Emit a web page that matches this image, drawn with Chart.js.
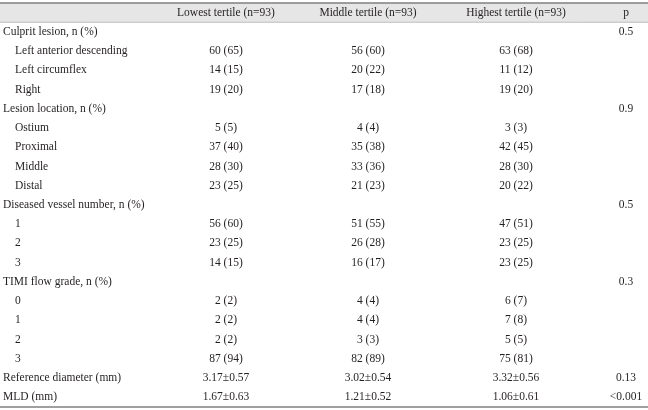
<!DOCTYPE html>
<html>
<head>
<meta charset="utf-8">
<script src="https://cdn.jsdelivr.net/npm/chart.js@4"></script>
<style>
  body { margin: 0; background: #fff; }
  canvas { display: block; }
</style>
</head>
<body>
<canvas id="tbl" width="648" height="410"></canvas>
<script>
// table content
const columns = ['Lowest tertile (n=93)', 'Middle tertile (n=93)', 'Highest tertile (n=93)', 'p'];

const rowLabels = [
  'Culprit lesion, n (%)', 'Left anterior descending', 'Left circumflex', 'Right',
  'Lesion location, n (%)', 'Ostium', 'Proximal', 'Middle', 'Distal',
  'Diseased vessel number, n (%)', '1', '2', '3',
  'TIMI flow grade, n (%)', '0', '1', '2', '3',
  'Reference diameter (mm)', 'MLD (mm)'
];
const indented = [0,1,1,1, 0,1,1,1,1, 0,1,1,1, 0,1,1,1,1, 0,0];

const lowest  = ['', '60 (65)', '14 (15)', '19 (20)', '', '5 (5)', '37 (40)', '28 (30)', '23 (25)',
                 '', '56 (60)', '23 (25)', '14 (15)', '', '2 (2)', '2 (2)', '2 (2)', '87 (94)', '3.17±0.57', '1.67±0.63'];
const middle  = ['', '56 (60)', '20 (22)', '17 (18)', '', '4 (4)', '35 (38)', '33 (36)', '21 (23)',
                 '', '51 (55)', '26 (28)', '16 (17)', '', '4 (4)', '4 (4)', '3 (3)', '82 (89)', '3.02±0.54', '1.21±0.52'];
const highest = ['', '63 (68)', '11 (12)', '19 (20)', '', '3 (3)', '42 (45)', '28 (30)', '20 (22)',
                 '', '47 (51)', '23 (25)', '23 (25)', '', '6 (7)', '7 (8)', '5 (5)', '75 (81)', '3.32±0.56', '1.06±0.61'];
const pValues = ['0.5', '', '', '', '0.9', '', '', '', '',
                 '0.5', '', '', '', '0.3', '', '', '', '', '0.13', '<0.001'];

// layout (x positions in px along the x scale)
const colX = [226, 368, 516, 626];
const labelX = 3, indentX = 15;
const FONT = '11.5px "Liberation Serif", serif';
const INK = '#231f20';

function cellData(values, x) {
  const pts = [], texts = [];
  values.forEach((v, i) => {
    if (v !== '') { pts.push({ x: x, y: i }); texts.push(v); }
  });
  return { pts, texts };
}

const datasets = [];
// header row sits at y = -1
datasets.push({
  data: columns.map((c, i) => ({ x: colX[i], y: -1 })),
  texts: columns, align: 'center'
});
datasets.push({
  data: rowLabels.map((l, i) => ({ x: indented[i] ? indentX : labelX, y: i })),
  texts: rowLabels, align: 'left'
});
[lowest, middle, highest, pValues].forEach((col, c) => {
  const d = cellData(col, colX[c]);
  datasets.push({ data: d.pts, texts: d.texts, align: 'center' });
});
datasets.forEach(ds => { ds.pointRadius = 0; ds.pointHoverRadius = 0; });

const tablePlugin = {
  id: 'tableText',
  beforeDatasetsDraw(chart) {
    const { ctx, chartArea, scales: { y } } = chart;
    const top = y.getPixelForValue(-1.5);
    const hb = y.getPixelForValue(-0.5);
    ctx.save();
    ctx.fillStyle = '#e6e6e6';
    ctx.fillRect(chartArea.left, top, chartArea.right - chartArea.left, hb - top);
    ctx.strokeStyle = '#7f7f7f';
    ctx.lineWidth = 1.5;
    ctx.beginPath();
    ctx.moveTo(chartArea.left, top); ctx.lineTo(chartArea.right, top);
    ctx.stroke();
    ctx.strokeStyle = '#bdbdbd';
    ctx.lineWidth = 1;
    ctx.beginPath();
    ctx.moveTo(chartArea.left, hb); ctx.lineTo(chartArea.right, hb);
    ctx.stroke();
    const bottom = y.getPixelForValue(19.5);
    ctx.strokeStyle = '#7f7f7f';
    ctx.lineWidth = 1.5;
    ctx.beginPath();
    ctx.moveTo(chartArea.left, bottom); ctx.lineTo(chartArea.right, bottom);
    ctx.stroke();
    ctx.restore();
  },
  afterDatasetsDraw(chart) {
    const ctx = chart.ctx;
    ctx.save();
    ctx.font = FONT;
    ctx.fillStyle = INK;
    ctx.textBaseline = 'middle';
    chart.data.datasets.forEach((ds, di) => {
      ctx.textAlign = ds.align;
      chart.getDatasetMeta(di).data.forEach((el, i) => {
        ctx.fillText(ds.texts[i], el.x, el.y);
      });
    });
    ctx.restore();
  }
};

new Chart(document.getElementById('tbl'), {
  type: 'scatter',
  data: { datasets: datasets },
  options: {
    responsive: false,
    animation: false,
    events: [],
    layout: { padding: { left: 0, right: 0, top: 3, bottom: 3 } },
    plugins: { legend: { display: false }, tooltip: { enabled: false } },
    scales: {
      x: { type: 'linear', min: 0, max: 648, display: false },
      y: { type: 'linear', min: -1.5, max: 19.5, reverse: true, display: false }
    }
  },
  plugins: [tablePlugin]
});
</script>
</body>
</html>
